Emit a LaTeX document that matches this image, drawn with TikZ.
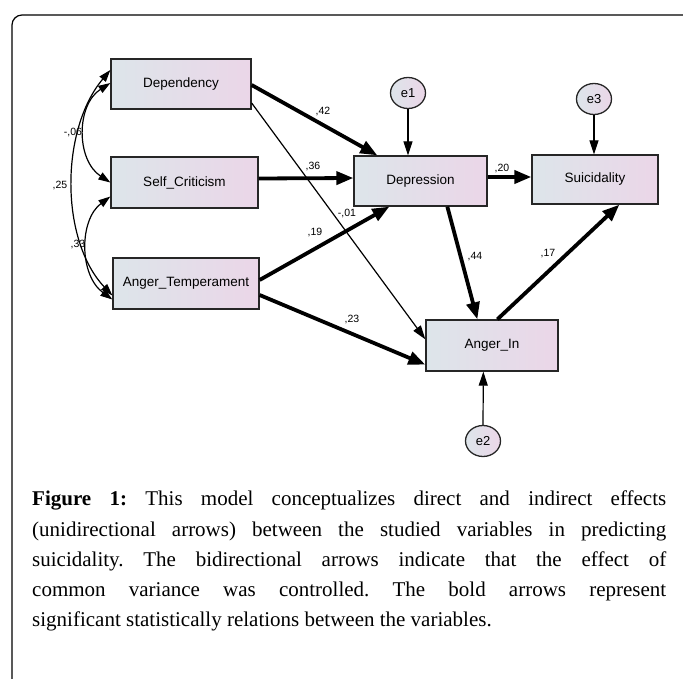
\documentclass[tikz,border=0pt]{standalone}
\usepackage{fontspec}
\setmainfont{Liberation Serif}
\setsansfont{Liberation Sans}
\usetikzlibrary{arrows.meta,calc,shapes.geometric}
\definecolor{boxL}{HTML}{DDE5EA}
\definecolor{boxR}{HTML}{EBD6E8}
\frenchspacing
\begin{document}
\begin{tikzpicture}[x=1pt,y=-1pt,
 var/.style={draw=black!85, line width=1.3pt, left color=boxL, right color=boxR, font=\sffamily\fontsize{13.5}{14}\selectfont, inner sep=0pt},
 err/.style={ellipse, draw=black!85, line width=1.3pt, left color=boxL, right color=boxR, minimum width=35pt, minimum height=31pt, inner sep=0pt, font=\sffamily\fontsize{13}{14}\selectfont},
 thk/.style={line width=3.8pt, -{Triangle[length=17pt,width=13pt]}},
 thn/.style={line width=1.2pt, -{Triangle[length=14pt,width=9pt]}},
 cov/.style={line width=1.2pt, {Triangle[length=12pt,width=8pt]}-{Triangle[length=12pt,width=8pt]}},
 lbl/.style={font=\sffamily\fontsize{10.5}{12}\selectfont, inner sep=0pt},
 captionline/.style={anchor=base west, inner sep=0pt, font=\fontsize{21}{30}\selectfont},
]
\useasboundingbox (0,0) rectangle (683,679);
% frame
\draw[line width=1.2pt, rounded corners=10pt] (12,679) -- (12,15) -- (690,15);

% variables
\node[var, minimum width=140pt, minimum height=50pt] (dep) at (181,84) {Dependency};
\node[var, minimum width=147pt, minimum height=51pt] (sc) at (184.5,182.5) {Self\_Criticism};
\node[var, minimum width=146pt, minimum height=51pt] (at) at (186,283.5) {Anger\_Temperament};
\node[var, minimum width=133pt, minimum height=50pt] (depr) at (420.5,181) {Depression};
\node[var, minimum width=126pt, minimum height=49pt] (sui) at (595,179.5) {Suicidality};
\node[var, minimum width=132pt, minimum height=51pt] (ai) at (492,345.5) {Anger\_In};
\node[err] (e1) at (408,93) {e1};
\node[err] (e3) at (594,99) {e3};
\node[err] (e2) at (483,441) {e2};

% paths
\draw[thk] ($(dep.east)+(0,1)$) -- ($(depr.north west)+(24,0)$);
\draw[thn] ($(dep.east)+(0,19)$) -- ($(ai.north west)+(0,20)$);
\draw[thk] ($(sc.east)+(0,-4)$) -- ($(depr.west)+(0,-3)$);
\draw[thk] ($(at.east)+(0,-3.5)$) -- ($(depr.south west)+(36,0)$);
\draw[thk] ($(at.east)+(0,11.5)$) -- ($(ai.south west)+(0,-7)$);
\draw[thk] ($(depr.east)+(0,-4)$) -- ($(sui.west)+(0,-2.5)$);
\draw[thk] ($(depr.south west)+(94,0)$) -- ($(ai.north west)+(52,0)$);
\draw[thk] ($(ai.north west)+(72,0)$) -- ($(sui.south west)+(88,0)$);
\draw[thn] (e1.south) -- (e1.south |- depr.north);
\draw[thn] (e3.south) -- (e3.south |- sui.north);
\draw[thn] (e2.north) -- ($(ai.south west)+(58,0)$);

% covariances
\draw[cov] ($(dep.west)+(0,-14)$) .. controls (60,130) and (60,240) .. ($(at.west)+(0,12)$);
\draw[cov] ($(dep.west)+(0,-1)$) .. controls (76,105) and (76,160) .. (sc.west);
\draw[cov] ($(sc.west)+(0,14)$) .. controls (79,220) and (79,275) .. ($(at.west)+(0,16)$);

% labels
\node[lbl] (l42) at (323,112) {,42};
\node[lbl] (l36) at (313,167) {,36};
\node[lbl] (l01) at (347,214) {-,01};
\node[lbl] (l19) at (315,233) {,19};
\node[lbl] (l20) at (502,169) {,20};
\node[lbl] (l44) at (475,257) {,44};
\node[lbl] (l17) at (548,254) {,17};
\node[lbl] (l23) at (352,320) {,23};
\node[lbl] (l06) at (73,133) {-,06};
\node[lbl] (l25) at (60,186) {,25};
\node[lbl] (l33) at (78,245) {,33};

% caption
\node[captionline] (c1) at (32,505) {\makebox[634pt][s]{\textbf{Figure 1:} This model conceptualizes direct and indirect effects}};
\node[captionline] (c2) at (32,536) {\makebox[634pt][s]{(unidirectional arrows) between the studied variables in predicting}};
\node[captionline] (c3) at (32,566) {\makebox[634pt][s]{suicidality. The bidirectional arrows indicate that the effect of}};
\node[captionline] (c4) at (32,596) {\makebox[634pt][s]{common variance was controlled. The bold arrows represent}};
\node[captionline] (c5) at (32,626) {significant statistically relations between the variables.};
\end{tikzpicture}
\end{document}
